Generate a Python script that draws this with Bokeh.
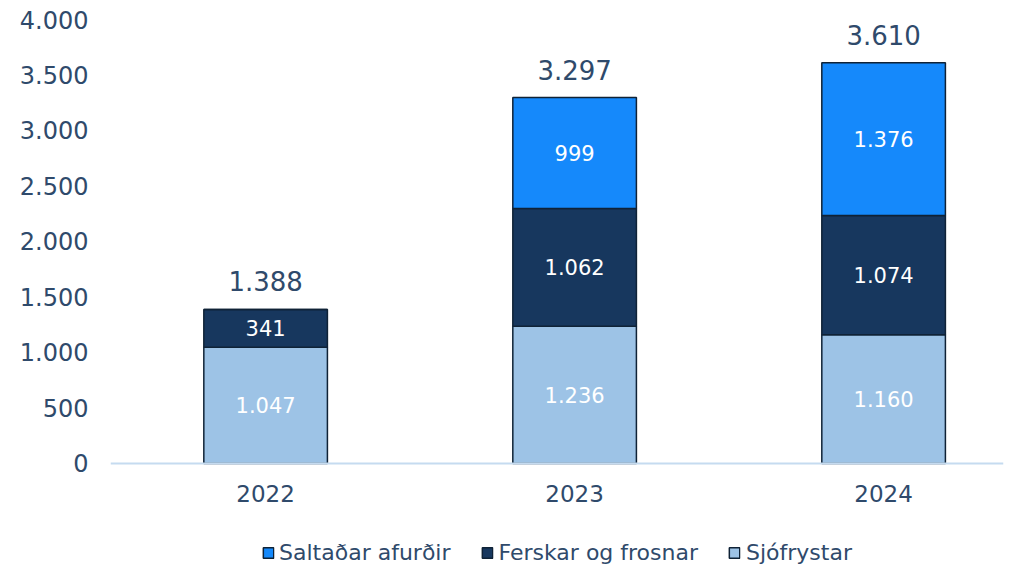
from bokeh.plotting import figure
from bokeh.models import ColumnDataSource, Range1d, FixedTicker, LabelSet, Legend, LegendItem
from bokeh.core.properties import value
from bokeh.embed import file_html
from bokeh.resources import INLINE

years = ["2022", "2023", "2024"]
sjofrystar = [1047, 1236, 1160]
ferskar = [341, 1062, 1074]
saltadar = [0, 999, 1376]
totals = [1388, 3297, 3610]
series_names = ["Sjófrystar", "Ferskar og frosnar", "Saltaðar afurðir"]
y_ticks = [0, 500, 1000, 1500, 2000, 2500, 3000, 3500, 4000]
y_tick_labels = ["0", "500", "1.000", "1.500", "2.000", "2.500", "3.000", "3.500", "4.000"]

FONT = "DejaVu Sans"
TXT = "#2F4A6B"
COLORS = ["#9DC3E6", "#17375E", "#1589FB"]
OUTLINE = "#0F2236"


def fmt(v):
    return f"{v:,}".replace(",", ".")


x = list(range(len(years)))
src = ColumnDataSource(dict(x=x, s=sjofrystar, f=ferskar, a=saltadar))

# frame reaches the bottom of the canvas so the legend can sit under the axis
p = figure(frame_width=893, frame_height=548, output_backend="svg", toolbar_location=None,
           x_range=Range1d(-0.502, 2.388), y_range=Range1d(-937, 4000),
           min_border_left=110, min_border_right=10, min_border_top=19,
           min_border_bottom=0)
p.outline_line_color = None
p.grid.visible = False

rs = p.vbar_stack(["s", "f", "a"], x="x", width=0.40, source=src,
                  fill_color=COLORS, line_color=OUTLINE, line_width=1.5)

# axes
p.yaxis.ticker = FixedTicker(ticks=y_ticks)
p.yaxis.major_label_overrides = {t: l for t, l in zip(y_ticks, y_tick_labels)}
p.yaxis.axis_line_color = None
p.yaxis.major_tick_line_color = None
p.yaxis.minor_tick_line_color = None
p.yaxis.major_tick_out = 0
p.yaxis.major_tick_in = 0
p.yaxis.major_label_standoff = 22
p.yaxis.major_label_text_font = FONT
p.yaxis.major_label_text_font_size = "24px"
p.yaxis.major_label_text_color = TXT

p.xaxis.fixed_location = 0
p.xaxis.ticker = FixedTicker(ticks=x)
p.xaxis.major_label_overrides = {i: y for i, y in zip(x, years)}
p.xaxis.axis_line_color = "#C5DBF0"
p.xaxis.axis_line_width = 2
p.xaxis.major_tick_line_color = None
p.xaxis.minor_tick_line_color = None
p.xaxis.major_tick_out = 0
p.xaxis.major_tick_in = 0
p.xaxis.major_label_standoff = 22
p.xaxis.major_label_text_font = FONT
p.xaxis.major_label_text_font_size = "23px"
p.xaxis.major_label_text_color = TXT

# segment labels
lx, ly, lt = [], [], []
for i in x:
    bottom = 0
    for vals in (sjofrystar, ferskar, saltadar):
        v = vals[i]
        if v > 0:
            lx.append(i)
            ly.append(bottom + v / 2)
            lt.append(fmt(v))
        bottom += v
lsrc = ColumnDataSource(dict(x=lx, y=ly, t=lt))
p.add_layout(LabelSet(x="x", y="y", text="t", source=lsrc, text_align="center",
                      text_baseline="middle", text_color="white",
                      text_font=value(FONT), text_font_size="21px"))

tsrc = ColumnDataSource(dict(x=x, y=totals, t=[fmt(v) for v in totals]))
p.add_layout(LabelSet(x="x", y="y", text="t", source=tsrc, text_align="center",
                      text_baseline="middle", text_color=TXT, y_offset=28,
                      text_font=value(FONT), text_font_size="26px"))

legend = Legend(items=[LegendItem(label=series_names[2], renderers=[rs[2]]),
                       LegendItem(label=series_names[1], renderers=[rs[1]]),
                       LegendItem(label=series_names[0], renderers=[rs[0]])],
                orientation="horizontal", location="bottom_center",
                glyph_width=13, glyph_height=13, label_standoff=5, spacing=30,
                padding=0, margin=2, border_line_color=None,
                background_fill_alpha=0,
                label_text_font=FONT, label_text_font_size="22px",
                label_text_color=TXT)
p.add_layout(legend, "center")

open("out.html", "w").write(file_html(p, INLINE))
